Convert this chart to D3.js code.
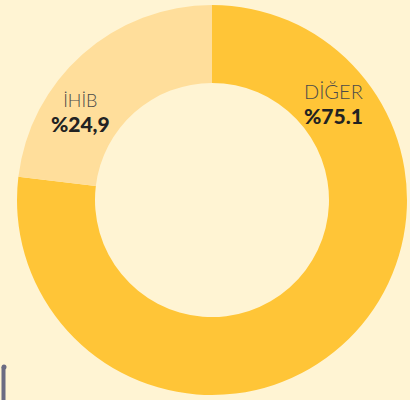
<!DOCTYPE html>
<html>
<head>
<meta charset="utf-8">
<script src="https://cdn.jsdelivr.net/npm/d3@7"></script>
<style>
  html, body { margin: 0; padding: 0; background: #fff4d3; }
  svg { display: block; }
</style>
</head>
<body>
<script>
var width = 410;
var height = 400;

// slices, clockwise from 12 o'clock
var categories = ['DİĞER', 'İHİB'];
var percentLabels = ['%75.1', '%24,9'];
// arc sizes as drawn in the picture
var sliceValues = [76.9, 23.1];
var colors = ['#ffc537', '#ffde9b'];

var cx = 212;
var cy = 200;
var outerR = 195;
var innerR = 117;

var svg = d3.select('body').append('svg')
  .attr('width', width)
  .attr('height', height);

var pie = d3.pie()
  .sort(null)
  .value(function(d) { return d; });

var arc = d3.arc()
  .innerRadius(innerR)
  .outerRadius(outerR);

var slices = pie(sliceValues);

var g = svg.append('g')
  .attr('transform', 'translate(' + cx + ',' + cy + ')');

g.selectAll('path')
  .data(slices)
  .enter().append('path')
  .attr('d', arc)
  .attr('fill', function(d, i) { return colors[i]; });

// label anchors (angle in degrees clockwise from top, radius)
var labelPos = [
  { angle: 52.5, r: 153, top: -8, bottom: 17 },
  { angle: -57, r: 157, top: -7, bottom: 18 }
];

var labels = g.selectAll('g.label')
  .data(categories)
  .enter().append('g')
  .attr('class', 'label')
  .attr('transform', function(d, i) {
    var a = labelPos[i].angle * Math.PI / 180;
    var x = Math.sin(a) * labelPos[i].r;
    var y = -Math.cos(a) * labelPos[i].r;
    return 'translate(' + x + ',' + y + ')';
  });

labels.append('text')
  .attr('text-anchor', 'middle')
  .attr('y', function(d, i) { return labelPos[i].top; })
  .style('font-family', 'Lato, sans-serif')
  .style('font-weight', 300)
  .style('font-size', function(d, i) { return i === 0 ? '20px' : '18px'; })
  .style('fill', '#4a4a4a')
  .text(function(d) { return d; });

labels.append('text')
  .attr('text-anchor', 'middle')
  .attr('y', function(d, i) { return labelPos[i].bottom; })
  .style('font-family', 'Lato, sans-serif')
  .style('font-weight', 900)
  .style('font-size', '21px')
  .style('fill', '#222222')
  .text(function(d, i) { return percentLabels[i]; });

// small handle at the bottom left
var handle = svg.append('g').attr('fill', '#6b6b82');
handle.append('rect')
  .attr('x', 1.5).attr('y', 367)
  .attr('width', 4).attr('height', 33);
handle.append('circle')
  .attr('cx', 4).attr('cy', 367).attr('r', 2.5);
</script>
</body>
</html>
